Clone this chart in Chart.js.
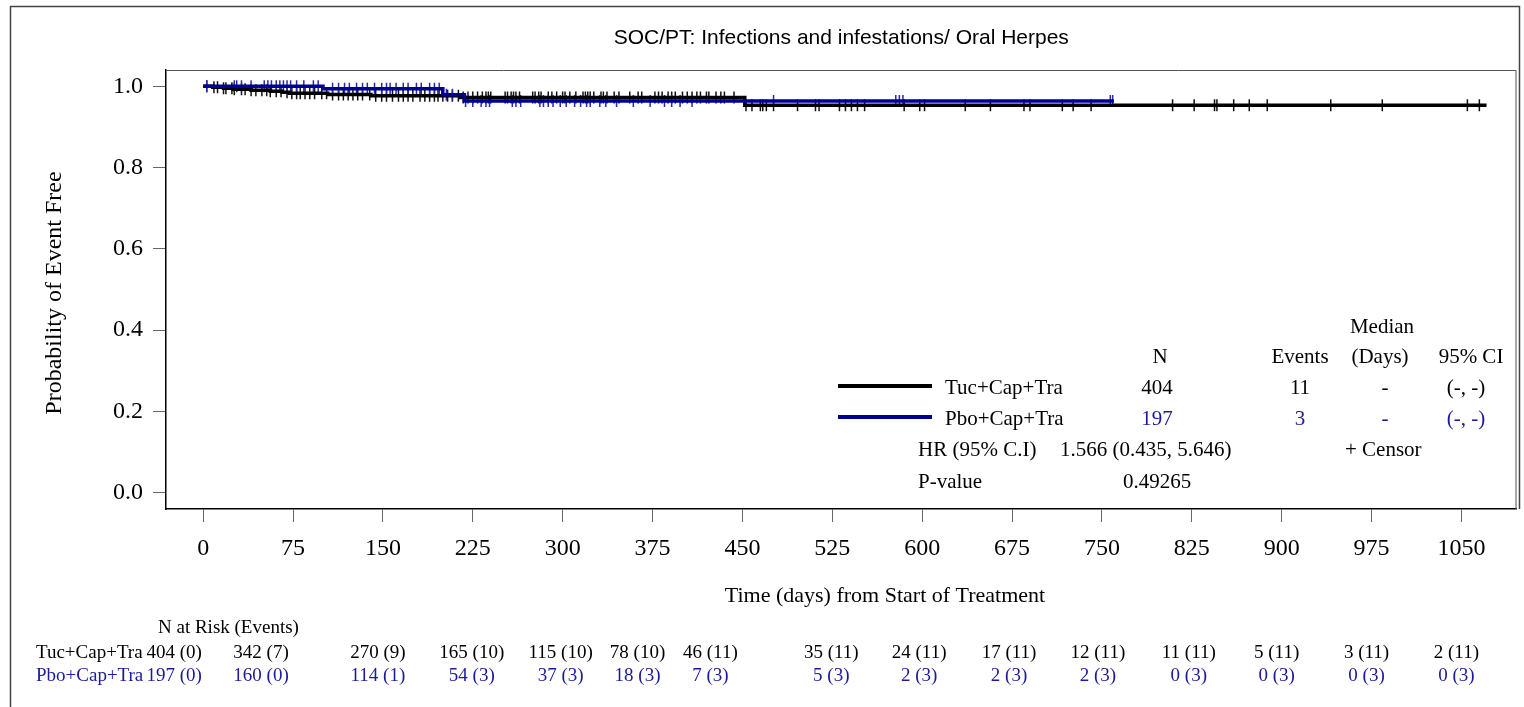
<!DOCTYPE html>
<html>
<head>
<meta charset="utf-8">
<script src="https://cdn.jsdelivr.net/npm/chart.js@4.4.1/dist/chart.umd.min.js"></script>
<style>
  body { margin: 0; background: #fff; }
</style>
</head>
<body>
<canvas id="km" width="1524" height="707"></canvas>
<script>
// Kaplan-Meier steps: day of event and survival after it (last entry = end of follow-up)
var tucDays = [0, 8, 17, 25, 40, 56, 66, 72, 104, 140, 215, 452, 1071];
var tucSurv = [1.0, 0.9975, 0.995, 0.9925, 0.990, 0.9875, 0.985, 0.9825, 0.9795, 0.9765, 0.9725, 0.953, 0.953];
var pboDays = [0, 100, 200, 218, 760];
var pboSurv = [1.0, 0.994, 0.979, 0.964, 0.964];

// censoring times (days)
var tucCensor = [3, 9, 12, 17, 19, 24, 26, 32, 35, 40, 44, 49, 53, 56, 61, 65, 70, 74, 78, 81, 85, 89, 93, 99,
  103, 108, 113, 117, 121, 125, 129, 133, 139, 144, 149, 153, 158, 163, 167, 171, 175, 181, 185, 189, 193,
  196, 200, 204, 208, 213, 217, 221, 225, 229, 233, 236, 238, 240, 252, 254, 257, 259, 261, 264, 275, 277,
  280, 282, 288, 291, 295, 300, 302, 306, 311, 317, 319, 321, 323, 326, 332, 334, 337, 343, 347, 356, 363,
  366, 377, 380, 383, 388, 391, 394, 400, 404, 408, 412, 415, 420, 422, 428, 432, 435, 443, 453, 458, 465,
  467, 470, 476, 496, 511, 514, 531, 536, 541, 546, 552, 585, 598, 602, 636, 657, 685, 690, 717, 726, 741,
  809, 827, 844, 846, 860, 873, 888, 941, 984, 1055, 1065];
var pboCensor = [3, 26, 28, 32, 40, 51, 54, 57, 61, 64, 67, 70, 73, 78, 84, 92, 96, 108, 113, 118, 122, 128,
  133, 137, 143, 149, 153, 156, 161, 167, 171, 178, 182, 189, 193, 197, 203, 208, 219, 225, 232, 236, 239,
  258, 261, 265, 281, 284, 288, 292, 298, 303, 310, 315, 320, 323, 331, 336, 345, 359, 373, 385, 391, 398,
  408, 476, 578, 581, 584, 757, 759];

var xTicks = [0, 75, 150, 225, 300, 375, 450, 525, 600, 675, 750, 825, 900, 975, 1050];
var yTicks = [0, 0.2, 0.4, 0.6, 0.8, 1.0];

var groups = ['Tuc+Cap+Tra', 'Pbo+Cap+Tra'];
var tucRisk = ['404 (0)', '342 (7)', '270 (9)', '165 (10)', '115 (10)', '78 (10)', '46 (11)', '35 (11)',
  '24 (11)', '17 (11)', '12 (11)', '11 (11)', '5 (11)', '3 (11)', '2 (11)'];
var pboRisk = ['197 (0)', '160 (0)', '114 (1)', '54 (3)', '37 (3)', '18 (3)', '7 (3)', '5 (3)',
  '2 (3)', '2 (3)', '2 (3)', '0 (3)', '0 (3)', '0 (3)', '0 (3)'];

var statN = ['404', '197'];
var statEvents = ['11', '3'];
var statMedian = ['-', '-'];
var statCI = ['(-, -)', '(-, -)'];
var hrText = '1.566 (0.435, 5.646)';
var pText = '0.49265';

var BLACK = '#000000';
var BLUE = '#000090';
var BLUE_TXT = '#1a1a9a';
var SERIF = '"Liberation Serif", "Times New Roman", serif';

// pixel nudges of the risk table columns relative to the x ticks
var riskShift = [-29, -32, -5, -1, -2, -15, -32, -1, -3, -3, -4, -3, -5, -5, -5];

function survAt(days, surv, t) {
  var v = surv[0];
  for (var i = 0; i < days.length; i++) { if (days[i] <= t) v = surv[i]; }
  return v;
}
function stepPts(days, surv) {
  return days.map(function (d, i) { return { x: d, y: surv[i] }; });
}
function censorPts(times, days, surv) {
  return times.map(function (t) { return { x: t, y: survAt(days, surv, t) }; });
}

var annot = {
  id: 'annot',
  afterDraw: function (chart) {
    var ctx = chart.ctx, a = chart.chartArea, xs = chart.scales.x;
    ctx.save();
    // outer frame
    ctx.strokeStyle = '#444'; ctx.lineWidth = 1.5;
    ctx.beginPath();
    ctx.moveTo(10.5, 707); ctx.lineTo(10.5, 6.5); ctx.lineTo(1519.5, 6.5); ctx.lineTo(1519.5, a.bottom);
    ctx.stroke();
    // plot frame top / right
    ctx.strokeStyle = '#555'; ctx.lineWidth = 1;
    ctx.beginPath();
    ctx.moveTo(a.left, a.top + 0.5); ctx.lineTo(a.right - 0.5, a.top + 0.5); ctx.lineTo(a.right - 0.5, a.bottom);
    ctx.stroke();

    ctx.fillStyle = '#000';
    ctx.textBaseline = 'middle';
    // title
    ctx.textAlign = 'center';
    ctx.font = '21px "Liberation Sans", Arial, sans-serif';
    ctx.fillText('SOC/PT: Infections and infestations/ Oral Herpes', (a.left + a.right) / 2, 38);

    // axis titles
    ctx.font = '22px ' + SERIF;
    ctx.fillText('Time (days) from Start of Treatment', 885, 596);
    ctx.save();
    ctx.translate(55, 293); ctx.rotate(-Math.PI / 2);
    ctx.font = '24px ' + SERIF;
    ctx.fillText('Probability of Event Free', 0, 0);
    ctx.restore();

    // legend / statistics block
    ctx.font = '21px ' + SERIF;
    var rows = [388, 419];
    ctx.fillText('Median', 1382, 327);
    ctx.fillText('N', 1160, 357);
    ctx.fillText('Events', 1300, 357);
    ctx.fillText('(Days)', 1380, 357);
    ctx.fillText('95% CI', 1471, 357);
    for (var g = 0; g < 2; g++) {
      var y = rows[g];
      ctx.strokeStyle = g === 0 ? BLACK : BLUE;
      ctx.lineWidth = 4;
      ctx.beginPath(); ctx.moveTo(838, y - 2); ctx.lineTo(932, y - 2); ctx.stroke();
      ctx.fillStyle = '#000';
      ctx.textAlign = 'left';
      ctx.fillText(groups[g], 945, y);
      ctx.textAlign = 'center';
      ctx.fillStyle = g === 0 ? '#000' : BLUE_TXT;
      ctx.fillText(statN[g], 1157, y);
      ctx.fillText(statEvents[g], 1300, y);
      ctx.fillText(statMedian[g], 1385, y);
      ctx.fillText(statCI[g], 1466, y);
    }
    ctx.fillStyle = '#000';
    ctx.textAlign = 'left';
    ctx.fillText('HR (95% C.I)', 918, 450);
    ctx.fillText(hrText, 1060, 450);
    ctx.fillText('+ Censor', 1345, 450);
    ctx.fillText('P-value', 918, 482);
    ctx.textAlign = 'center';
    ctx.fillText(pText, 1157, 482);

    // number at risk table
    ctx.font = '19px ' + SERIF;
    ctx.textAlign = 'left';
    ctx.fillText('N at Risk (Events)', 158, 628);
    var ry = [653, 676];
    var tabs = [tucRisk, pboRisk];
    for (var r = 0; r < 2; r++) {
      ctx.fillStyle = r === 0 ? '#000' : BLUE_TXT;
      ctx.textAlign = 'left';
      ctx.fillText(groups[r], 36, ry[r]);
      ctx.textAlign = 'center';
      for (var i = 0; i < xTicks.length; i++) {
        ctx.fillText(tabs[r][i], xs.getPixelForValue(xTicks[i]) + riskShift[i], ry[r]);
      }
    }
    ctx.restore();
  }
};

new Chart(document.getElementById('km'), {
  type: 'scatter',
  data: {
    datasets: [
      { data: stepPts(pboDays, pboSurv), showLine: true, stepped: true, borderColor: BLUE,
        borderWidth: 3.5, pointRadius: 0, order: 1 },
      { data: stepPts(tucDays, tucSurv), showLine: true, stepped: true, borderColor: BLACK,
        borderWidth: 3.5, pointRadius: 0, order: 2 },
      { data: censorPts(pboCensor, pboDays, pboSurv), pointStyle: 'line', rotation: 90, pointRadius: 6,
        borderColor: '#2a2aa8', borderWidth: 1.5, order: 3 },
      { data: censorPts(tucCensor, tucDays, tucSurv), pointStyle: 'line', rotation: 90, pointRadius: 6,
        borderColor: '#111', borderWidth: 1.5, order: 4 }
    ]
  },
  options: {
    responsive: false,
    animation: false,
    layout: { padding: { top: 70, right: 5, left: 0, bottom: 0 } },
    plugins: { legend: { display: false }, tooltip: { enabled: false }, title: { display: false } },
    scales: {
      x: {
        type: 'linear', min: -31, max: 1096,
        afterBuildTicks: function (s) { s.ticks = xTicks.map(function (v) { return { value: v }; }); },
        afterFit: function (s) { s.height = 198; },
        grid: { drawOnChartArea: false, tickLength: 13, color: '#666' },
        border: { display: true, color: '#000', width: 1.5 },
        ticks: { color: '#000', padding: 12, maxRotation: 0, font: { family: SERIF, size: 24 },
          callback: function (v) { return String(v); } }
      },
      y: {
        type: 'linear', min: -0.04, max: 1.04,
        afterBuildTicks: function (s) { s.ticks = yTicks.map(function (v) { return { value: v }; }); },
        afterFit: function (s) { s.width = 166; },
        grid: { drawOnChartArea: false, tickLength: 13, color: '#666' },
        border: { display: true, color: '#000', width: 1.5 },
        ticks: { color: '#000', padding: 10, font: { family: SERIF, size: 24 },
          callback: function (v) { return v.toFixed(1); } }
      }
    }
  },
  plugins: [annot]
});
</script>
</body>
</html>
